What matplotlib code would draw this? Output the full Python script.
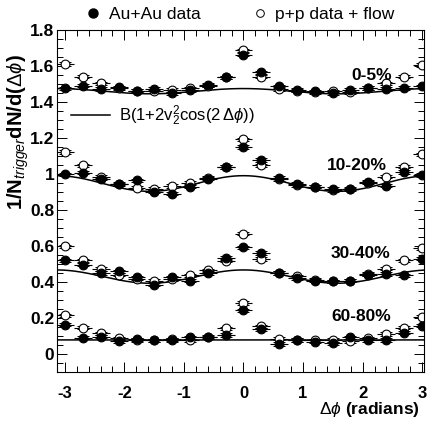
import numpy as np
import matplotlib
matplotlib.use("Agg")
import matplotlib.pyplot as plt
from matplotlib.lines import Line2D
from matplotlib.ticker import MultipleLocator

plt.rcParams['font.family'] = ['Liberation Sans', 'DejaVu Sans']
plt.rcParams['mathtext.fontset'] = 'custom'
plt.rcParams['mathtext.rm'] = 'Liberation Sans'
plt.rcParams['mathtext.it'] = 'Liberation Sans:italic'
plt.rcParams['mathtext.bf'] = 'Liberation Sans:bold'
plt.rcParams['axes.unicode_minus'] = False

# bin centres k*2pi/21, k=-10..10
dphi = np.arange(-10, 11) * 2 * np.pi / 21
bin_half = np.pi / 21

# Au+Au data (filled)
auau_0_5 = [1.476, 1.490, 1.472, 1.481, 1.463, 1.472, 1.448, 1.466, 1.494, 1.537, 1.663,
            1.565, 1.487, 1.466, 1.459, 1.448, 1.466, 1.477, 1.472, 1.477, 1.487]
auau_10_20 = [0.998, 1.007, 0.974, 0.942, 0.964, 0.901, 0.890, 0.929, 0.974, 1.039, 1.150,
              1.078, 0.979, 0.946, 0.929, 0.918, 0.918, 0.957, 0.936, 1.011, 0.994]
auau_30_40 = [0.521, 0.496, 0.450, 0.459, 0.426, 0.385, 0.427, 0.407, 0.450, 0.533, 0.593,
              0.561, 0.450, 0.422, 0.407, 0.404, 0.407, 0.440, 0.444, 0.437, 0.530]
auau_60_80 = [0.162, 0.091, 0.097, 0.072, 0.082, 0.075, 0.078, 0.093, 0.093, 0.106, 0.242,
              0.138, 0.056, 0.078, 0.069, 0.060, 0.093, 0.075, 0.078, 0.119, 0.158]

# p+p data + flow (open)
pp_0_5 = [1.611, 1.541, 1.503, 1.476, 1.463, 1.459, 1.466, 1.476, 1.490, 1.537, 1.686,
          1.541, 1.472, 1.463, 1.453, 1.459, 1.453, 1.477, 1.503, 1.541, 1.605]
pp_10_20 = [1.122, 1.048, 0.985, 0.946, 0.924, 0.918, 0.933, 0.951, 0.979, 1.039, 1.193,
            1.048, 0.970, 0.939, 0.929, 0.909, 0.914, 0.951, 0.985, 1.041, 1.109]
pp_30_40 = [0.599, 0.521, 0.472, 0.440, 0.418, 0.407, 0.416, 0.437, 0.465, 0.518, 0.669,
            0.528, 0.450, 0.431, 0.412, 0.404, 0.407, 0.444, 0.474, 0.521, 0.589]
pp_60_80 = [0.214, 0.147, 0.115, 0.088, 0.078, 0.075, 0.082, 0.075, 0.097, 0.143, 0.283,
            0.153, 0.084, 0.078, 0.075, 0.078, 0.072, 0.088, 0.111, 0.147, 0.208]

# flow background B(1+2v2^2 cos 2dphi)
B_vals = [1.460, 0.947, 0.430, 0.078]
two_v2sq = [0.010, 0.046, 0.086, 0.004]

cent_labels = ['0-5%', '10-20%', '30-40%', '60-80%']
label_pos = [(2.49, 1.545), (2.41, 1.045), (2.47, 0.561), (2.47, 0.208)]
sys_err = 0.009

auau = [auau_0_5, auau_10_20, auau_30_40, auau_60_80]
pp = [pp_0_5, pp_10_20, pp_30_40, pp_60_80]

fig = plt.figure(figsize=(4.30, 4.21), dpi=100)
ax = fig.add_axes([0.1326, 0.1164, 0.8535, 0.8124])


def draw(y, fc, z):
    # horizontal bin-width bars, no end caps
    ax.errorbar(dphi, y, xerr=bin_half, fmt='none', ecolor='black', elinewidth=0.8, zorder=z)
    # small systematic brackets around the marker
    ax.errorbar(dphi, y, yerr=sys_err, fmt='none', ecolor='black', elinewidth=0.6,
                capsize=4, capthick=0.7, zorder=z)
    ax.plot(dphi, y, 'o', mfc=fc, mec='black', mew=0.8, ms=6.3, ls='none', zorder=z + 0.1)


xs = np.linspace(-3.2, 3.2, 300)
for i in range(4):
    ax.plot(xs, B_vals[i] * (1 + two_v2sq[i] * np.cos(2 * xs)), color='black', lw=1.1, zorder=1)
    draw(pp[i], 'white', 2)
    draw(auau[i], 'black', 3)
    ax.text(label_pos[i][0], label_pos[i][1], cent_labels[i], ha='right', va='center',
            fontsize=12.5, fontweight='bold', zorder=5)

ax.set_xlim(-3.13, 3.03)
ax.set_ylim(-0.1, 1.8)
ax.xaxis.set_major_locator(MultipleLocator(1))
ax.xaxis.set_minor_locator(MultipleLocator(0.2))
ax.yaxis.set_major_locator(MultipleLocator(0.2))
ax.yaxis.set_minor_locator(MultipleLocator(0.05))
ax.tick_params(which='both', direction='in', top=True, right=True, width=0.7)
ax.tick_params(which='major', length=7)
ax.tick_params(which='minor', length=4)
ax.tick_params(axis='x', which='major', pad=10, labelsize=12)
ax.tick_params(axis='y', which='major', pad=2, labelsize=12.5)
ax.set_yticks(np.arange(0, 1.81, 0.2))
ax.set_yticklabels(['0', '0.2', '0.4', '0.6', '0.8', '1', '1.2', '1.4', '1.6', '1.8'])
for lab in ax.get_xticklabels() + ax.get_yticklabels():
    lab.set_fontweight('bold')
for sp in ax.spines.values():
    sp.set_linewidth(0.8)

fig.text(0.977, 0.028, r'$\Delta\phi$ (radians)', fontsize=12.5, fontweight='bold',
         ha='right', va='center')
fig.text(0.043, 0.686, r'$\mathbf{1/N}_{trigger}\mathbf{dN/d(}\Delta\phi\mathbf{)}$', rotation=90,
         ha='center', va='center', fontsize=14.5)

# flow legend inside axes
ax.plot([-2.9, -2.24], [1.325, 1.325], color='black', lw=1.1)
ax.text(-2.09, 1.325, r'B(1+2v$_2^2$cos(2$\,\Delta\phi$))', fontsize=12, va='center')

h1 = Line2D([], [], marker='o', ls='none', mfc='black', mec='black', ms=6.5)
h2 = Line2D([], [], marker='o', ls='none', mfc='white', mec='black', mew=0.7, ms=5.5)
fig.legend([h1, h2], ['Au+Au data', 'p+p data + flow'], loc='center', ncol=2,
           bbox_to_anchor=(0.555, 0.965), frameon=False, fontsize=12.5,
           handletextpad=0.3, columnspacing=2.8, handlelength=1.2)

fig.savefig('out.png', dpi=100)
